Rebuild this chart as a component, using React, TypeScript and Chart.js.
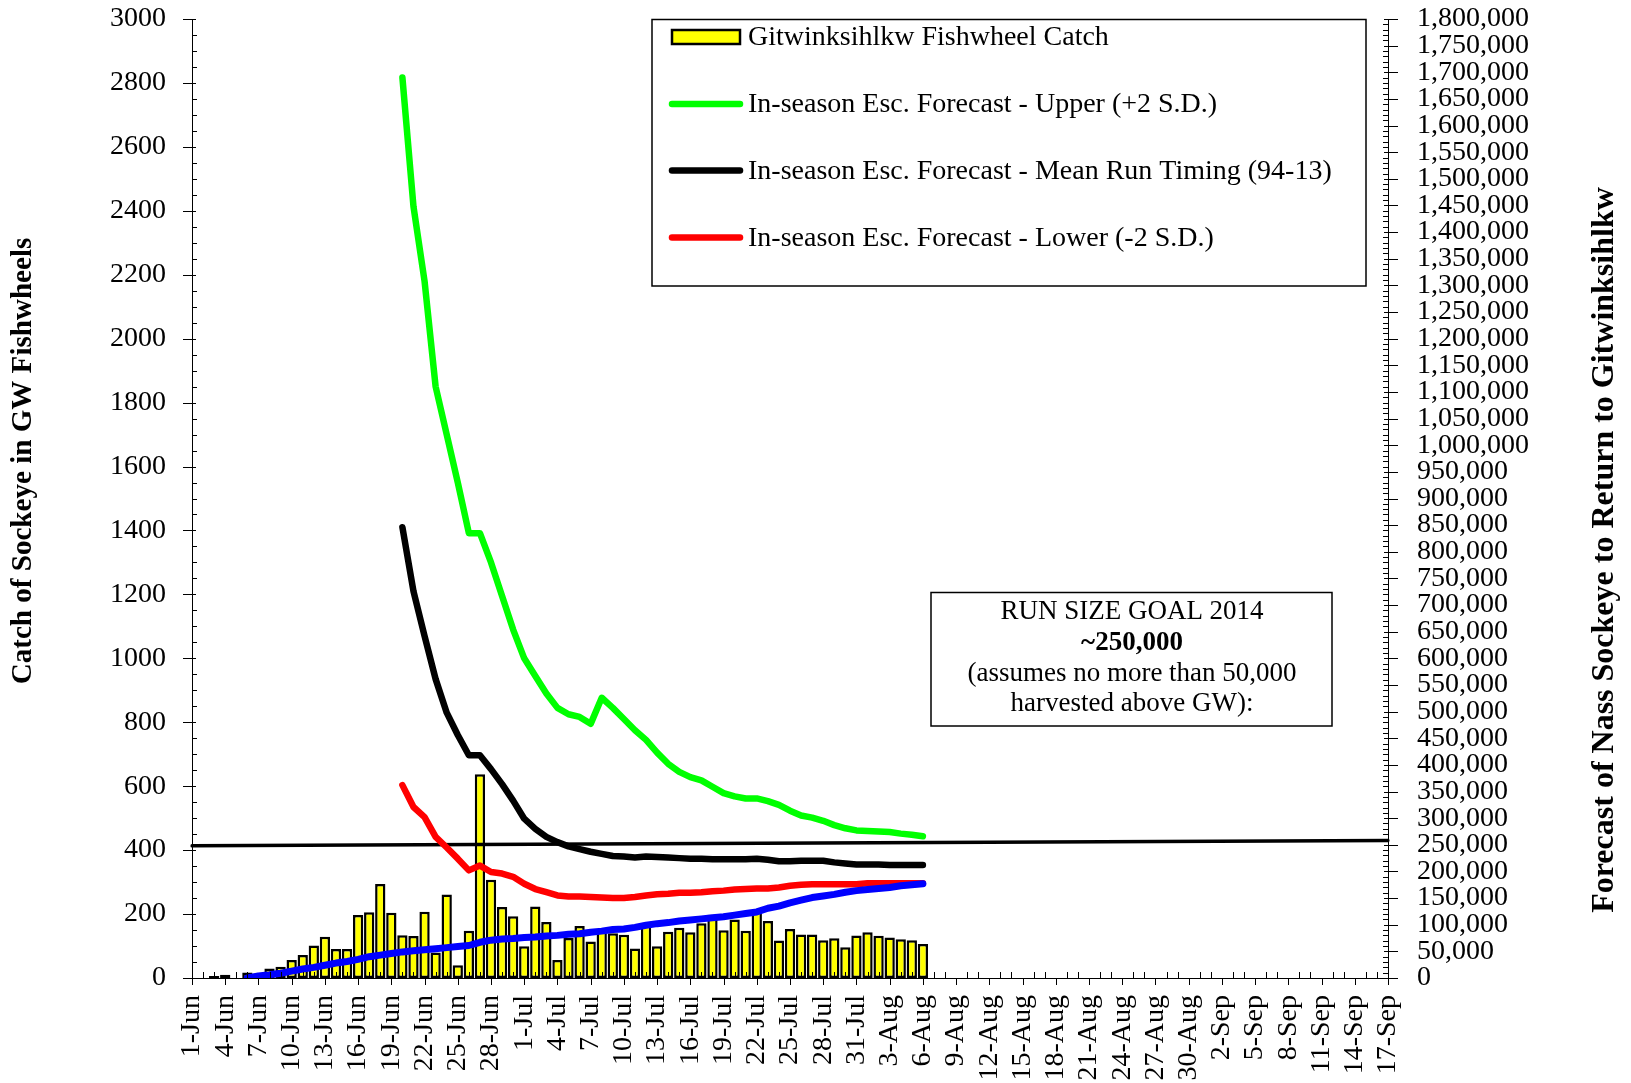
import React, { useEffect, useRef } from "react";
import { Chart, registerables } from "chart.js";

Chart.register(...registerables);

const FONT = "'Liberation Serif', 'Times New Roman', serif";

// Categories: daily from 1-Jun to 17-Sep
const MONTHS = ["Jun", "Jul", "Aug", "Sep"];
const MONTH_DAYS = [30, 31, 31, 17];
const DATES: string[] = [];
MONTHS.forEach((m, i) => {
  for (let d = 1; d <= MONTH_DAYS[i]; d++) DATES.push(`${d}-${m}`);
});
const N = DATES.length;

// Gitwinksihlkw fishwheel catch, 1-Jun .. 6-Aug (left axis)
const CATCH_START = 0;
const CATCH = [
  0, 0, 6, 10, 0, 17, 4, 30, 35, 56, 72, 102, 129, 91, 91, 197, 206, 294, 204, 134,
  131, 207, 80, 261, 40, 148, 637, 307, 222, 193, 99, 224, 175, 56, 125, 163, 114, 146, 140, 135,
  92, 172, 99, 145, 157, 143, 171, 198, 149, 183, 148, 210, 178, 117, 153, 136, 136, 118, 124, 96,
  133, 143, 132, 127, 121, 118, 106,
];

// Forecast series (right axis), from 20-Jun .. 6-Aug
const FORECAST_START = 19;
const UPPER = [
  1690000, 1448000, 1308000, 1110000, 1020000, 930000, 835000, 835000,
  780000, 717000, 654000, 600000, 567000, 534000, 507000, 495000, 490000, 477000,
  526000, 507000, 486000, 465000, 447000, 423000, 402000, 387000, 377000, 371000,
  359000, 347000, 341000, 337000, 337000, 332000, 325000, 314000, 305000, 301000,
  295000, 287000, 281000, 277000, 276000, 275000, 274000, 271000, 269000, 266000,
];
const MEAN = [
  846000, 726000, 642000, 561000, 498000, 456000, 418000, 418000,
  392000, 364000, 333000, 299000, 280000, 265000, 255000, 247000, 242000, 237000,
  233000, 229000, 228000, 226000, 228000, 227000, 226000, 225000, 224000, 224000,
  223000, 223000, 223000, 223000, 224000, 222000, 219000, 219000, 220000, 220000,
  220000, 217000, 215000, 213000, 213000, 213000, 212000, 212000, 212000, 212000,
];
const LOWER = [
  362000, 321000, 302000, 265000, 245000, 224000, 202000, 211000,
  199000, 196000, 190000, 177000, 167000, 161000, 155000, 153000, 153000, 152000,
  151000, 150000, 150000, 152000, 155000, 157000, 158000, 160000, 160000, 161000,
  163000, 164000, 166000, 167000, 168000, 168000, 170000, 173000, 175000, 176000,
  176000, 176000, 176000, 176000, 178000, 178000, 178000, 178000, 178000, 178000,
];

// Blue cumulative line (right axis), 6-Jun .. 6-Aug
const BLUE_START = 5;
const BLUE = [
  0, 4000, 6000, 9000, 13000, 17000, 20000, 24000, 28000, 31000,
  35000, 40000, 43000, 46000, 49000, 51000, 53000, 55000, 57000, 59000,
  61000, 67000, 71000, 73000, 74000, 76000, 77000, 79000, 80000, 82000,
  83000, 86000, 88000, 91000, 92000, 95000, 99000, 102000, 104000, 107000,
  109000, 111000, 113000, 115000, 118000, 121000, 124000, 131000, 135000, 141000,
  146000, 151000, 154000, 157000, 161000, 164000, 166000, 168000, 170000, 173000,
  175000, 177000,
];

// Run size goal reference line (right axis), endpoints 1-Jun and 17-Sep
const GOAL_START = 248000;
const GOAL_END = 258000;

const LEGEND_LABELS = [
  "Gitwinksihlkw Fishwheel Catch",
  "In-season Esc. Forecast - Upper (+2 S.D.)",
  "In-season Esc. Forecast - Mean Run Timing (94-13)",
  "In-season Esc. Forecast - Lower (-2 S.D.)",
];
const GOAL_TEXT = [
  "RUN SIZE GOAL 2014",
  "~250,000",
  "(assumes no more than 50,000",
  "harvested above GW):",
];
const LEFT_TITLE = "Catch of Sockeye in GW Fishwheels";
const RIGHT_TITLE = "Forecast of Nass Sockeye to Return to Gitwinksihlkw";

function place(start: number, vals: number[], skipZero = false): (number | null)[] {
  const out: (number | null)[] = new Array(N).fill(null);
  vals.forEach((v, i) => {
    out[start + i] = skipZero && v === 0 ? null : v;
  });
  return out;
}

const GOAL: (number | null)[] = new Array(N).fill(null);
GOAL[0] = GOAL_START;
GOAL[N - 1] = GOAL_END;

function drawFitRotated(ctx: CanvasRenderingContext2D, text: string, cx: number, cy: number, len: number) {
  ctx.save();
  ctx.font = `bold 100px ${FONT}`;
  const w = ctx.measureText(text).width;
  const size = (100 * len) / w;
  ctx.font = `bold ${size}px ${FONT}`;
  ctx.translate(cx, cy);
  ctx.rotate(-Math.PI / 2);
  ctx.textAlign = "center";
  ctx.textBaseline = "middle";
  ctx.fillStyle = "#000";
  ctx.fillText(text, 0, 0);
  ctx.restore();
}

const decorPlugin = {
  id: "decor",
  afterDraw(chart: any) {
    const ctx: CanvasRenderingContext2D = chart.ctx;
    const area = chart.chartArea;
    const xs = chart.scales.x;
    const yl = chart.scales.y;
    const yr = chart.scales.y1;
    ctx.save();
    ctx.strokeStyle = "#000";
    ctx.lineWidth = 1;
    ctx.beginPath();
    for (let i = 0; i < N; i++) {
      const px = Math.round(xs.getPixelForValue(i)) + 0.5;
      if (i % 3 === 0) {
        ctx.moveTo(px, area.bottom);
        ctx.lineTo(px, area.bottom + 7);
      } else {
        ctx.moveTo(px, area.bottom);
        ctx.lineTo(px, area.bottom - 6);
      }
    }
    for (let v = 0; v <= 3000; v += 50) {
      const py = Math.round(yl.getPixelForValue(v)) + 0.5;
      if (v % 200 === 0) {
        ctx.moveTo(area.left - 9, py);
        ctx.lineTo(area.left + 4, py);
      } else {
        ctx.moveTo(area.left, py);
        ctx.lineTo(area.left + 5, py);
      }
    }
    for (let v = 0; v <= 1800000; v += 10000) {
      const py = Math.round(yr.getPixelForValue(v)) + 0.5;
      if (v % 50000 === 0) {
        ctx.moveTo(area.right - 4, py);
        ctx.lineTo(area.right + 10, py);
      } else {
        ctx.moveTo(area.right - 5, py);
        ctx.lineTo(area.right, py);
      }
    }
    ctx.stroke();

    // Legend box
    ctx.fillStyle = "#fff";
    ctx.fillRect(652, 19, 714, 267);
    ctx.lineWidth = 1.5;
    ctx.strokeStyle = "#000";
    ctx.strokeRect(652, 19.5, 714, 266.5);
    // swatch 1: bar
    ctx.fillStyle = "#FFFF00";
    ctx.fillRect(672, 30, 68, 14);
    ctx.lineWidth = 2.5;
    ctx.strokeRect(672, 30, 68, 14);
    // line swatches
    const rowsY = [37, 104, 170.5, 237.5];
    const lineColors = ["#00FF00", "#000000", "#FF0000"];
    ctx.lineCap = "round";
    ctx.lineWidth = 6.5;
    lineColors.forEach((c, k) => {
      ctx.strokeStyle = c;
      ctx.beginPath();
      ctx.moveTo(672, rowsY[k + 1]);
      ctx.lineTo(740, rowsY[k + 1]);
      ctx.stroke();
    });
    ctx.fillStyle = "#000";
    ctx.font = `28px ${FONT}`;
    ctx.textAlign = "left";
    ctx.textBaseline = "middle";
    LEGEND_LABELS.forEach((t, k) => ctx.fillText(t, 748, rowsY[k] + 1));

    // Run size goal box
    ctx.fillStyle = "#fff";
    ctx.fillRect(931, 592, 401, 134);
    ctx.lineWidth = 1.5;
    ctx.strokeStyle = "#000";
    ctx.strokeRect(931, 592.5, 401, 133.5);
    ctx.fillStyle = "#000";
    ctx.textAlign = "center";
    const goalY = [612, 643, 674, 704];
    GOAL_TEXT.forEach((t, k) => {
      ctx.font = k === 1 ? `bold 27px ${FONT}` : `27px ${FONT}`;
      ctx.fillText(t, 1132, goalY[k]);
    });
    ctx.restore();

    drawFitRotated(ctx, LEFT_TITLE, 23, 461, 447);
    drawFitRotated(ctx, RIGHT_TITLE, 1605, 550, 726);
  },
};

const zeroPad = (s: any) => {
  s.paddingTop = 0;
  s.paddingBottom = 0;
  s.paddingLeft = 0;
  s.paddingRight = 0;
};

export default function App() {
  const ref = useRef<HTMLCanvasElement | null>(null);
  useEffect(() => {
    if (!ref.current) return;
    const lineBase = {
      type: "line" as const,
      yAxisID: "y1",
      borderWidth: 6.5,
      pointRadius: 0,
      fill: false,
      tension: 0,
      borderCapStyle: "round" as const,
      borderJoinStyle: "round" as const,
    };
    const chart = new Chart(ref.current, {
      type: "bar",
      data: {
        labels: DATES,
        datasets: [
          {
            type: "bar",
            label: LEGEND_LABELS[0],
            data: place(CATCH_START, CATCH, true),
            yAxisID: "y",
            backgroundColor: "#FFFF00",
            borderColor: "#000000",
            borderWidth: 2.5,
            borderSkipped: false,
            barPercentage: 0.93,
            categoryPercentage: 1.0,
            order: 10,
          },
          {
            ...lineBase,
            label: "Goal",
            data: GOAL,
            spanGaps: true,
            borderColor: "#000000",
            borderWidth: 3.5,
            order: 6,
          },
          { ...lineBase, label: LEGEND_LABELS[1], data: place(FORECAST_START, UPPER), borderColor: "#00FF00", order: 4 },
          { ...lineBase, label: LEGEND_LABELS[2], data: place(FORECAST_START, MEAN), borderColor: "#000000", order: 3 },
          { ...lineBase, label: LEGEND_LABELS[3], data: place(FORECAST_START, LOWER), borderColor: "#FF0000", order: 2 },
          { ...lineBase, label: "Cumulative", data: place(BLUE_START, BLUE), borderColor: "#0000FF", borderWidth: 7, order: 1 },
        ] as any,
      },
      options: {
        responsive: false,
        maintainAspectRatio: false,
        devicePixelRatio: 1,
        animation: false,
        layout: { padding: { top: 19, left: 0, right: 0, bottom: 0 } },
        plugins: { legend: { display: false }, tooltip: { enabled: false }, title: { display: false } },
        scales: {
          x: {
            type: "category",
            offset: false,
            grid: { display: false, drawTicks: false },
            border: { display: true, color: "#000", width: 1 },
            ticks: {
              autoSkip: false,
              minRotation: 90,
              maxRotation: 90,
              padding: 17,
              color: "#000",
              font: { family: FONT, size: 28 },
              callback: (_v: any, i: number) => (i % 3 === 0 ? DATES[i] : ""),
            },
            afterFit: (s: any) => {
              s.height = 105;
              zeroPad(s);
            },
          },
          y: {
            position: "left",
            min: 0,
            max: 3000,
            grid: { display: false, drawTicks: false },
            border: { display: true, color: "#000", width: 1 },
            ticks: {
              stepSize: 200,
              padding: 26,
              color: "#000",
              font: { family: FONT, size: 28 },
              callback: (v: any) => String(v),
            },
            afterFit: (s: any) => {
              s.width = 192;
              zeroPad(s);
            },
          },
          y1: {
            position: "right",
            min: 0,
            max: 1800000,
            grid: { display: false, drawTicks: false },
            border: { display: true, color: "#000", width: 1 },
            ticks: {
              stepSize: 50000,
              autoSkip: false,
              padding: 29,
              color: "#000",
              font: { family: FONT, size: 28 },
              callback: (v: any) => Number(v).toLocaleString("en-US"),
            },
            afterFit: (s: any) => {
              s.width = 243;
              zeroPad(s);
            },
          },
        },
      } as any,
      plugins: [decorPlugin],
    });
    return () => chart.destroy();
  }, []);
  return (
    <div style={{ position: "absolute", left: 0, top: 0, width: 1631, height: 1083, background: "#fff" }}>
      <canvas ref={ref} width={1631} height={1083} style={{ display: "block", width: 1631, height: 1083 }} />
    </div>
  );
}
